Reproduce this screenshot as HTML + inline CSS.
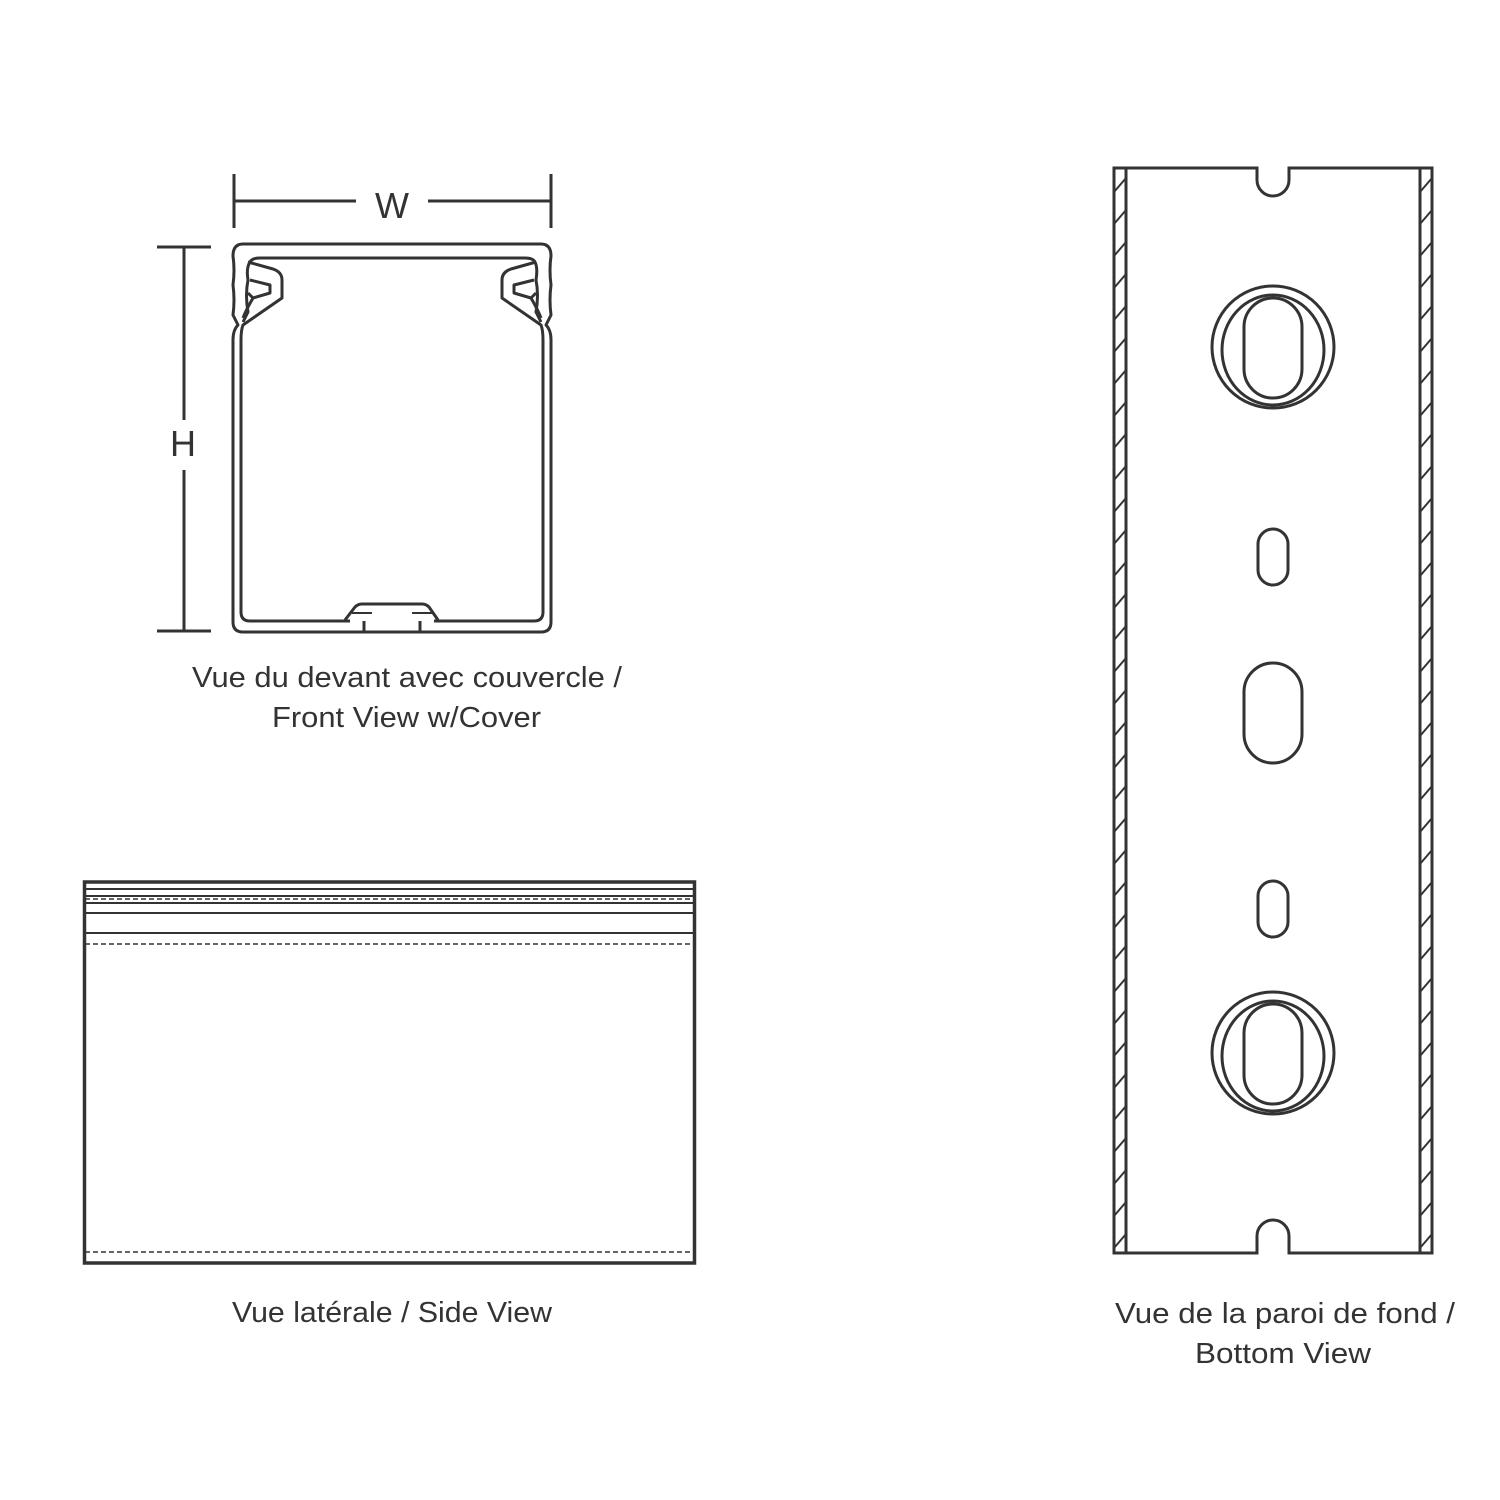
<!DOCTYPE html>
<html><head><meta charset="utf-8"><style>
html,body{margin:0;padding:0;background:#fff}
svg{display:block}
text{font-family:"Liberation Sans",sans-serif;fill:#333}
</style></head><body>
<svg width="1500" height="1500" viewBox="0 0 1500 1500" xmlns="http://www.w3.org/2000/svg">
<defs>
<pattern id="hl" patternUnits="userSpaceOnUse" x="1114" y="170" width="12" height="32">
<line x1="0" y1="22" x2="12" y2="8" stroke="#333" stroke-width="2"/>
</pattern>
<pattern id="hr" patternUnits="userSpaceOnUse" x="1420" y="170" width="12" height="32">
<line x1="0" y1="22" x2="12" y2="8" stroke="#333" stroke-width="2"/>
</pattern>
</defs>
<g fill="none" stroke="#333" stroke-width="3" stroke-linejoin="round">
<line x1="234" y1="174" x2="234" y2="228"/>
<line x1="551" y1="174" x2="551" y2="228"/>
<line x1="234" y1="201" x2="356" y2="201"/>
<line x1="428" y1="201" x2="551" y2="201"/>
<line x1="157" y1="247" x2="211" y2="247"/>
<line x1="157" y1="631" x2="211" y2="631"/>
<line x1="184" y1="247" x2="184" y2="420"/>
<line x1="184" y1="470" x2="184" y2="631"/>
<path d="M243,244 L541,244 Q551,244 551,256 Q549,270 551,285 Q549,300 551,315 L546,325 Q551,330 551,340 L551,622 Q551,632 541,632 L243,632 Q233,632 233,622 L233,340 Q233,330 238,325 L233,315 Q235,300 233,285 Q235,270 233,256 Q233,244 243,244 Z"/>
<path d="M243,322 L248,312 Q245,295 248,280 Q246,268 250,262 Q252,258 260,258 L525,258 Q533,258 535,262 Q538,268 536,280 Q539,295 536,312 L541,322"/>
<path d="M248,262 L273,269 Q282,272 282,280 L282,298 L243,325 Q241,330 241,340 L241,612 Q241,621 250,621 L350,621"/>
<path d="M250,280 L270,285 L270,293 L253,298 L248,293"/>
<path d="M253,298 Q246,310 243,318"/>
<path d="M536,262 L511,269 Q502,272 502,280 L502,298 L541,325 Q543,330 543,340 L543,612 Q543,621 534,621 L434,621"/>
<path d="M534,280 L514,285 L514,293 L531,298 L536,293"/>
<path d="M531,298 Q538,310 541,318"/>
<path d="M345,620 L355,607 Q358,604 362,604 L422,604 Q426,604 429,607 L438,620"/>
<line x1="352" y1="613" x2="372" y2="613" stroke-width="2"/>
<line x1="412" y1="613" x2="432" y2="613" stroke-width="2"/>
<line x1="364" y1="621" x2="364" y2="632"/>
<line x1="420" y1="621" x2="420" y2="632"/>
</g>
<text x="392" y="218" font-size="36" text-anchor="middle">W</text>
<text x="183" y="456" font-size="36" text-anchor="middle">H</text>
<text x="192" y="687" font-size="29" textLength="430" lengthAdjust="spacingAndGlyphs">Vue du devant avec couvercle /</text>
<text x="272" y="727" font-size="29" textLength="269" lengthAdjust="spacingAndGlyphs">Front View w/Cover</text>

<g fill="none" stroke="#333">
<rect x="84.5" y="882" width="610" height="381" stroke-width="3.5"/>
<line x1="85" y1="889" x2="694" y2="889" stroke-width="2"/>
<line x1="85" y1="896" x2="694" y2="896" stroke-width="2"/>
<line x1="85" y1="899" x2="694" y2="899" stroke-width="1.5" stroke-dasharray="5,3"/>
<line x1="85" y1="903" x2="694" y2="903" stroke-width="2"/>
<line x1="85" y1="913" x2="694" y2="913" stroke-width="2"/>
<line x1="85" y1="933" x2="694" y2="933" stroke-width="2"/>
<line x1="85" y1="944" x2="694" y2="944" stroke-width="1.5" stroke-dasharray="5,3"/>
<line x1="85" y1="1252" x2="694" y2="1252" stroke-width="1.5" stroke-dasharray="5,3"/>
</g>
<text x="232" y="1322" font-size="29" textLength="320" lengthAdjust="spacingAndGlyphs">Vue latérale / Side View</text>

<rect x="1114" y="170" width="12" height="1082" fill="url(#hl)"/>
<rect x="1420" y="170" width="12" height="1082" fill="url(#hr)"/>
<g fill="none" stroke="#333" stroke-width="3">
<path d="M1114,168 L1257,168 L1257,180 A16,16 0 0 0 1289,180 L1289,168 L1432,168 L1432,1253 L1289,1253 L1289,1236 A16,16 0 0 0 1257,1236 L1257,1253 L1114,1253 Z"/>
<line x1="1126" y1="168" x2="1126" y2="1253"/>
<line x1="1420" y1="168" x2="1420" y2="1253"/>
<circle cx="1273" cy="347" r="61"/>
<ellipse cx="1273" cy="350" rx="51" ry="55"/>
<rect x="1244" y="298" width="58" height="100" rx="29"/>
<circle cx="1273" cy="1053" r="61"/>
<ellipse cx="1273" cy="1056" rx="51" ry="55"/>
<rect x="1244" y="1004" width="58" height="100" rx="29"/>
<rect x="1258" y="529" width="30" height="56" rx="15"/>
<rect x="1258" y="881" width="30" height="56" rx="15"/>
<rect x="1244" y="663" width="58" height="100" rx="29"/>
</g>
<text x="1115" y="1323" font-size="29" textLength="340" lengthAdjust="spacingAndGlyphs">Vue de la paroi de fond /</text>
<text x="1195" y="1363" font-size="29" textLength="176" lengthAdjust="spacingAndGlyphs">Bottom View</text>
</svg>
</body></html>
